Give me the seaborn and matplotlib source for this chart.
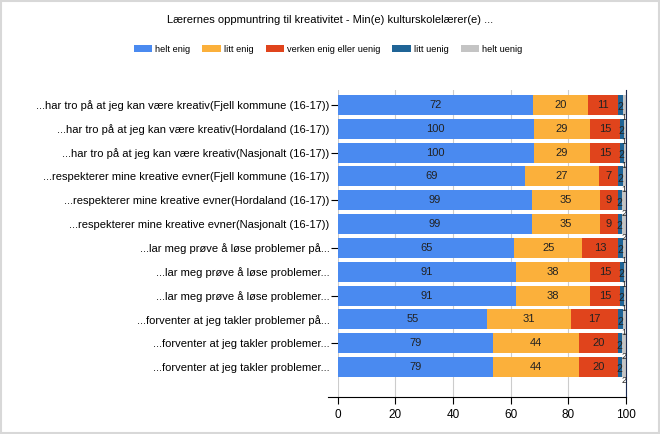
import numpy as np
import pandas as pd
import matplotlib
matplotlib.use("Agg")
import matplotlib.pyplot as plt
from matplotlib.patches import Patch
import seaborn as sns

title = "Lærernes oppmuntring til kreativitet - Min(e) kulturskolelærer(e) ..."

categories = [
    "...har tro på at jeg kan være kreativ(Fjell kommune (16-17))",
    "...har tro på at jeg kan være kreativ(Hordaland (16-17))",
    "...har tro på at jeg kan være kreativ(Nasjonalt (16-17))",
    "...respekterer mine kreative evner(Fjell kommune (16-17))",
    "...respekterer mine kreative evner(Hordaland (16-17))",
    "...respekterer mine kreative evner(Nasjonalt (16-17))",
    "...lar meg prøve å løse problemer på...",
    "...lar meg prøve å løse problemer...",
    "...lar meg prøve å løse problemer...",
    "...forventer at jeg takler problemer på...",
    "...forventer at jeg takler problemer...",
    "...forventer at jeg takler problemer...",
]

series_names = ["helt enig", "litt enig", "verken enig eller uenig", "litt uenig", "helt uenig"]
helt_enig = [72, 100, 100, 69, 99, 99, 65, 91, 91, 55, 79, 79]
litt_enig = [20, 29, 29, 27, 35, 35, 25, 38, 38, 31, 44, 44]
verken = [11, 15, 15, 7, 9, 9, 13, 15, 15, 17, 20, 20]
litt_uenig = [2, 2, 2, 2, 2, 2, 2, 2, 2, 2, 2, 2]
helt_uenig = [1, 1, 1, 1, 2, 2, 1, 1, 1, 1, 2, 2]

colors = ["#4a8af0", "#fbb03b", "#e0441c", "#1f6496", "#c4c4c4"]

plt.rcParams["font.family"] = ["Liberation Sans", "DejaVu Sans"]

counts = np.array([helt_enig, litt_enig, verken, litt_uenig, helt_uenig], dtype=float)
pct = counts / counts.sum(axis=0) * 100
cum = np.cumsum(pct, axis=0)

fig = plt.figure(figsize=(6.6, 4.34), dpi=100)
fig.patch.set_facecolor("white")
ax = fig.add_axes([0.512, 0.085, 0.436, 0.708])

# stacked bars: draw cumulative totals from the top so every segment shows
ypos = np.arange(len(categories))
for i in range(len(series_names) - 1, -1, -1):
    df = pd.DataFrame({"y": [str(k) for k in ypos], "x": cum[i]})
    sns.barplot(data=df, x="x", y="y", orient="h", color=colors[i],
                saturation=1, width=0.84, ax=ax, zorder=2)

# value labels
for i in range(len(series_names)):
    left = cum[i] - pct[i]
    for r in ypos:
        v = int(counts[i, r])
        xc = left[r] + pct[i, r] / 2
        if i < 3:
            ax.text(xc, r, str(v), ha="center", va="center", fontsize=8, color="#222222", zorder=4)
        elif i == 3:
            ax.text(xc, r + 0.1, str(v), ha="center", va="center", fontsize=7.5, color="#222222", zorder=4)
        else:
            ax.text(min(xc, 99.3), r + 0.55, str(v), ha="center", va="center", fontsize=6.5,
                    color="#222222", zorder=4)

ax.set_xlim(0, 100)
ax.set_ylim(len(categories) - 1 + 1.26, -0.63)
ax.set_xticks([0, 20, 40, 60, 80, 100])
ax.set_yticks(ypos)
ax.set_yticklabels(categories, fontsize=8)
ax.yaxis.remove_overlapping_locs = False
ax.set_yticks(ypos[::2], minor=True)
ax.tick_params(axis="y", which="major", length=0, pad=6)
ax.tick_params(axis="y", which="minor", length=5, width=0.8, color="black")
ax.tick_params(axis="x", length=5, width=0.8, labelsize=8.5, color="black")
ax.set_xlabel("")
ax.set_ylabel("")
ax.grid(axis="x", color="#cccccc", lw=0.8, zorder=0)
ax.set_axisbelow(True)
for s in ["top", "left"]:
    ax.spines[s].set_visible(False)
ax.spines["right"].set_color("#1a2a50")
ax.spines["bottom"].set_color("black")
ax.spines["bottom"].set_bounds(-3.5, 100)
ax.set_xlim(0, 100)

fig.text(0.5, 0.954, title, ha="center", va="center", fontsize=8)
handles = [Patch(facecolor=c, edgecolor="none") for c in colors]
fig.legend(handles, series_names, loc="center", bbox_to_anchor=(0.497, 0.887), ncol=5,
           frameon=False, fontsize=6.7, handlelength=1.95, handleheight=0.86,
           columnspacing=1.3, handletextpad=0.35)

fig.patches.append(plt.Rectangle((0.002, 0.002), 0.996, 0.996, transform=fig.transFigure,
                                 fill=False, edgecolor="#d8d8d8", lw=1.5))

fig.savefig("out.png", dpi=100, facecolor=fig.get_facecolor())
